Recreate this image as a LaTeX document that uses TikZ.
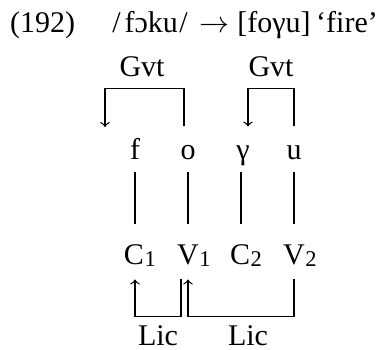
\documentclass[tikz,border=0pt]{standalone}
\usepackage{fontspec}
\setmainfont{Liberation Serif}
\begin{document}
\begin{tikzpicture}[x=0.4pt,y=-0.4pt,
  txt/.style={anchor=base, inner sep=0pt, font=\fontsize{12}{14}\selectfont},
  sub/.style={anchor=base west, inner sep=0pt, font=\fontsize{9}{11}\selectfont, xshift=-0.2pt, yshift=-0.6pt},
  seg/.style={txt, text height=13.2pt, text depth=4.8pt},
  cv/.style={txt, text height=16pt, text depth=5.6pt},
  ln/.style={line width=0.5pt},
  arr/.style={ln, ->}]
\useasboundingbox (0,0) rectangle (385,350);
% title line
\node[txt] (num) at (42.5,33) {(192)};
\node[txt] (ur) at (150,33) {/\kern1.6pt fɔku\kern0.6pt/};
\node[txt] (to) at (214,33) {\fontsize{13}{15}\selectfont$\rightarrow$};
\node[txt] (sr) at (274,33) {[foγu]};
\node[txt] (gl) at (347,33) {‘fire’};
% Gvt labels
\node[txt] (gvt1) at (142,77) {Gvt};
\node[txt] (gvt2) at (271,77) {Gvt};
% segments
\node[seg] (f) at (135,160) {f};
\node[seg] (o) at (188,160) {o};
\node[seg] (g) at (243,160) {γ};
\node[seg] (u) at (294,160) {u};
% skeleton
\node[cv] (C1) at (134,265) {C};
\node[cv] (V1) at (188,265) {V};
\node[cv] (C2) at (240,265) {C};
\node[cv] (V2) at (294,265) {V};
\node[sub] (s1) at (C1.base east) {1};
\node[sub] (s2) at (V1.base east) {1};
\node[sub] (s3) at (C2.base east) {2};
\node[sub] (s4) at (V2.base east) {2};
% association lines
\draw[ln] (f.south) -- (f.south |- C1.north);
\draw[ln] (o.south) -- (o.south |- V1.north);
\draw[ln] ([xshift=-0.8pt]g.south) -- ([xshift=-0.8pt]g.south |- C2.north);
\draw[ln] (u.south) -- (u.south |- V2.north);
% government arrows
\coordinate (gend) at (105,127);
\draw[arr] ([xshift=-1.6pt]o.north) -- ++(0,15.2pt) -| (gend);
\draw[arr] (u.north) -- ++(0,15.2pt) -| ([xshift=2pt]g.north);
% licensing arrows
\draw[arr] ([xshift=-2.8pt]V1.south) -- ++(0,-14.8pt) -| ([xshift=0.4pt]C1.south);
\draw[arr] (V2.south) -- ++(0,-14.8pt) -| (V1.south);
% Lic labels
\node[txt] (lic1) at (158,346) {Lic};
\node[txt] (lic2) at (248,346) {Lic};
\end{tikzpicture}
\end{document}
